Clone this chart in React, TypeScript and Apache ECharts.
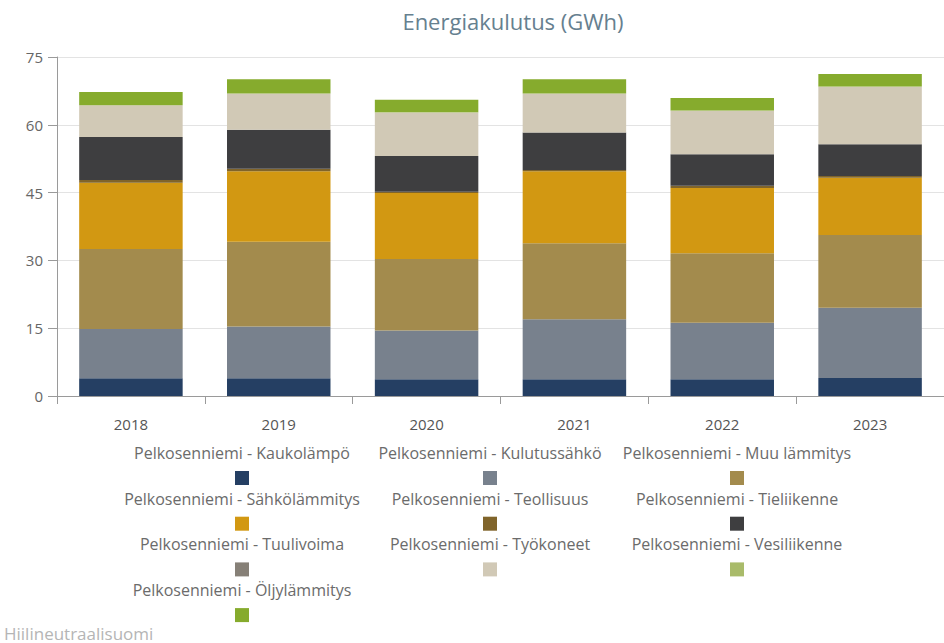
import React, { useEffect, useRef } from "react";
import * as echarts from "echarts";

const years = ["2018", "2019", "2020", "2021", "2022", "2023"];
const yTicks = [0, 15, 30, 45, 60, 75];

const seriesNames = [
  "Pelkosenniemi - Kaukolämpö",
  "Pelkosenniemi - Kulutussähkö",
  "Pelkosenniemi - Muu lämmitys",
  "Pelkosenniemi - Sähkölämmitys",
  "Pelkosenniemi - Teollisuus",
  "Pelkosenniemi - Tieliikenne",
  "Pelkosenniemi - Tuulivoima",
  "Pelkosenniemi - Työkoneet",
  "Pelkosenniemi - Vesiliikenne",
  "Pelkosenniemi - Öljylämmitys",
];

const kaukolampo = [3.9, 3.9, 3.7, 3.7, 3.7, 4.0];
const kulutussahko = [10.9, 11.5, 10.8, 13.3, 12.5, 15.5];
const muuLammitys = [17.7, 18.7, 15.8, 16.8, 15.4, 16.1];
const sahkolammitys = [14.7, 15.6, 14.6, 15.9, 14.4, 12.7];
const teollisuus = [0.6, 0.6, 0.3, 0.3, 0.5, 0.4];
const tieliikenne = [9.5, 8.6, 7.9, 8.3, 7.0, 7.0];
const tuulivoima = [0, 0, 0, 0, 0, 0];
const tyokoneet = [7.0, 8.0, 9.6, 8.6, 9.6, 12.7];
const vesiliikenne = [0.05, 0.05, 0.05, 0.05, 0.05, 0.05];
const oljylammitys = [2.9, 3.1, 2.8, 3.1, 2.8, 2.8];

const seriesValues = [
  kaukolampo,
  kulutussahko,
  muuLammitys,
  sahkolammitys,
  teollisuus,
  tieliikenne,
  tuulivoima,
  tyokoneet,
  vesiliikenne,
  oljylammitys,
];

const colors = [
  "#253f63",
  "#78818d",
  "#a38b4d",
  "#d29812",
  "#80642a",
  "#3e3e40",
  "#868077",
  "#d1c9b6",
  "#a9bb6a",
  "#86ab2d",
];

const FONT = "'Open Sans', 'Noto Sans', sans-serif";

export default function App() {
  const ref = useRef<HTMLDivElement>(null);

  useEffect(() => {
    if (!ref.current) return;
    const chart = echarts.init(ref.current, null, { renderer: "svg" });

    const colX = [242, 490, 737];
    const legendGraphics: any[] = [];
    seriesNames.forEach((name, i) => {
      const col = i % 3;
      const row = Math.floor(i / 3);
      const ty = 453 + row * 45.7;
      const sy = 471 + row * 45.7;
      legendGraphics.push({
        type: "text",
        x: colX[col],
        y: ty,
        style: {
          text: name,
          fill: "#6b6b6b",
          font: `16px ${FONT}`,
          textAlign: "center",
          textVerticalAlign: "middle",
        },
      });
      legendGraphics.push({
        type: "rect",
        shape: { x: colX[col] - 7, y: sy, width: 14, height: 14 },
        style: { fill: colors[i] },
      });
    });
    legendGraphics.push({
      type: "text",
      x: 4,
      y: 633,
      style: {
        text: "Hiilineutraalisuomi",
        fill: "#b5b5b5",
        font: `17px ${FONT}`,
        textAlign: "left",
        textVerticalAlign: "middle",
      },
    });

    chart.setOption({
      animation: false,
      title: {
        text: "Energiakulutus (GWh)",
        left: 508,
        top: 5,
        textAlign: "center",
        textStyle: {
          fontFamily: FONT,
          fontSize: 22,
          fontWeight: "normal",
          color: "#66808f",
        },
      },
      grid: { left: 57, top: 57, width: 897, height: 339 },
      xAxis: {
        type: "category",
        data: years,
        axisLine: { lineStyle: { color: "#9a9a9a" } },
        axisTick: { show: true, length: 8, lineStyle: { color: "#9a9a9a" } },
        axisLabel: {
          color: "#555",
          fontSize: 15,
          fontFamily: FONT,
          margin: 20,
        },
      },
      yAxis: {
        type: "value",
        min: 0,
        max: 75,
        interval: 15,
        axisLine: { show: true, lineStyle: { color: "#9a9a9a" } },
        axisTick: { show: true, length: 9, lineStyle: { color: "#9a9a9a" } },
        axisLabel: {
          color: "#666",
          fontSize: 15,
          fontFamily: FONT,
          margin: 14,
          formatter: (v: number) => (yTicks.includes(v) ? String(v) : ""),
        },
        splitLine: { lineStyle: { color: "#e3e3e3" } },
      },
      series: seriesNames.map((name, i) => ({
        name,
        type: "bar",
        stack: "total",
        barWidth: "70%",
        data: seriesValues[i],
        itemStyle: { color: colors[i] },
      })),
      graphic: legendGraphics,
    });

    return () => chart.dispose();
  }, []);

  return (
    <div
      ref={ref}
      style={{
        position: "fixed",
        left: 0,
        top: 0,
        width: 944,
        height: 643,
        overflow: "hidden",
        background: "#fff",
      }}
    />
  );
}
